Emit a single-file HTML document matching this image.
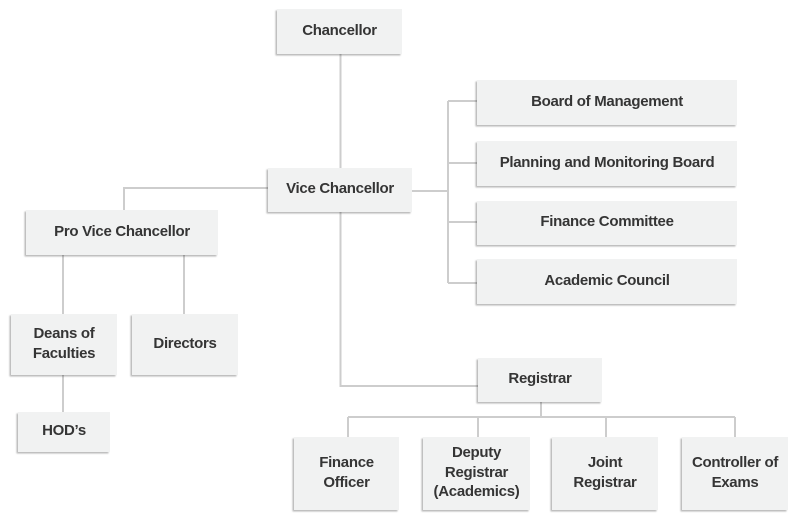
<!DOCTYPE html>
<html>
<head>
<meta charset="utf-8">
<style>
html,body{margin:0;padding:0;background:#ffffff;}
body{width:800px;height:523px;position:relative;overflow:hidden;font-family:"Liberation Sans",Arial,sans-serif;}
svg{position:absolute;left:0;top:0;}
.b{position:absolute;background:#f1f2f2;box-shadow:-1.5px 1.5px 1.5px rgba(0,0,0,0.28);display:flex;align-items:center;justify-content:center;text-align:center;color:#353535;font-weight:bold;font-size:15px;letter-spacing:-0.3px;line-height:19.5px;box-sizing:border-box;padding-bottom:2px;}
</style>
</head>
<body>
<svg width="800" height="523" viewBox="0 0 800 523">
<g stroke="#cdcdcd" stroke-width="2" fill="none">
<line x1="340.5" y1="54" x2="340.5" y2="168"/>
<polyline points="268,188 124,188 124,210"/>
<polyline points="340.5,212 340.5,386 478,386"/>
<line x1="412" y1="191" x2="448" y2="191"/>
<line x1="448" y1="101" x2="448" y2="283"/>
<line x1="448" y1="101" x2="477" y2="101"/>
<line x1="448" y1="163" x2="477" y2="163"/>
<line x1="448" y1="222" x2="477" y2="222"/>
<line x1="448" y1="283" x2="477" y2="283"/>
<line x1="63" y1="255" x2="63" y2="314"/>
<line x1="184" y1="255" x2="184" y2="314"/>
<line x1="63" y1="375" x2="63" y2="412"/>
<line x1="541" y1="402" x2="541" y2="417"/>
<line x1="348" y1="417" x2="735" y2="417"/>
<line x1="348" y1="417" x2="348" y2="437"/>
<line x1="478" y1="417" x2="478" y2="437"/>
<line x1="606" y1="417" x2="606" y2="437"/>
<line x1="735" y1="417" x2="735" y2="437"/>
</g>
</svg>

<div class="b" style="left:277px;top:9px;width:125px;height:45px;">Chancellor</div>
<div class="b" style="left:268px;top:168px;width:144px;height:44px;">Vice Chancellor</div>
<div class="b" style="left:26px;top:210px;width:192px;height:45px;">Pro Vice Chancellor</div>
<div class="b" style="left:11px;top:314px;width:106px;height:61px;">Deans of<br>Faculties</div>
<div class="b" style="left:132px;top:314px;width:106px;height:61px;">Directors</div>
<div class="b" style="left:18px;top:412px;width:92px;height:40px;">HOD’s</div>

<div class="b" style="left:477px;top:80px;width:260px;height:45px;">Board of Management</div>
<div class="b" style="left:477px;top:141px;width:260px;height:45px;">Planning and Monitoring Board</div>
<div class="b" style="left:477px;top:201px;width:260px;height:44px;">Finance Committee</div>
<div class="b" style="left:477px;top:259px;width:260px;height:45px;">Academic Council</div>

<div class="b" style="left:478px;top:358px;width:124px;height:44px;">Registrar</div>
<div class="b" style="left:294px;top:437px;width:105px;height:73px;">Finance<br>Officer</div>
<div class="b" style="left:423px;top:437px;width:107px;height:73px;">Deputy<br>Registrar<br>(Academics)</div>
<div class="b" style="left:552px;top:437px;width:106px;height:73px;">Joint<br>Registrar</div>
<div class="b" style="left:682px;top:437px;width:106px;height:73px;">Controller of<br>Exams</div>
</body>
</html>
